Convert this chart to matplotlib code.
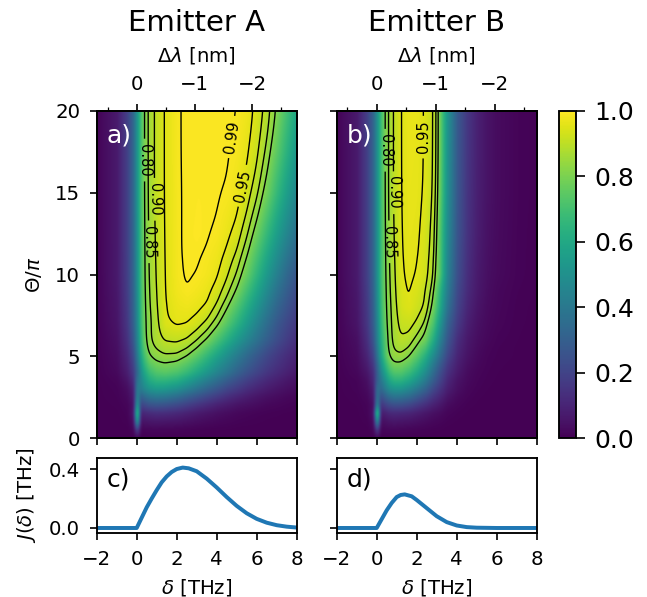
import numpy as np
import matplotlib
matplotlib.use("Agg")
import matplotlib.pyplot as plt

W, H, DPI = 647, 597, 150

theta_rows = [0, .5, 1, 1.5, 2, 2.5, 3, 3.5, 4, 4.5, 5, 5.5, 6, 7, 8, 9, 10, 12.5, 15, 17.5, 20]

delta_a = [-2, -1, -.5, -.2, 0, .2, .35, .6, .95, 1.4, 2, 2.5, 3, 3.5, 4, 4.5, 5, 5.5, 6, 6.5, 7, 7.5, 8]
map_a = [
 [0, 0, 0, .003, .02, .003, .002, .002, .002, .002, .002, .001, .001, .001, 0, 0, 0, 0, 0, 0, 0, 0, 0],
 [0, .001, .002, .015, .2, .015, .015, .018, .018, .016, .014, .011, .008, .006, .004, .003, .002, .001, .001, 0, 0, 0, 0],
 [.0005, .002, .006, .035, .55, .05, .055, .06, .065, .06, .055, .045, .035, .027, .02, .015, .01, .007, .005, .003, .002, .001, .001],
 [.001, .003, .01, .06, .72, .10, .11, .12, .13, .125, .11, .09, .07, .055, .04, .03, .02, .015, .01, .007, .005, .003, .002],
 [.001, .005, .015, .05, .55, .2, .22, .25, .26, .25, .22, .185, .15, .12, .09, .07, .05, .04, .03, .02, .015, .01, .007],
 [.002, .008, .025, .07, .45, .30, .34, .38, .40, .39, .35, .30, .255, .21, .17, .13, .10, .075, .055, .04, .03, .02, .015],
 [.002, .01, .035, .09, .42, .42, .47, .52, .55, .54, .50, .44, .38, .32, .265, .21, .17, .13, .10, .075, .055, .04, .03],
 [.0025, .015, .055, .13, .38, .46, .53, .61, .65, .65, .62, .56, .49, .42, .355, .29, .235, .185, .145, .11, .085, .06, .045],
 [.003, .025, .08, .17, .33, .50, .59, .68, .73, .745, .72, .67, .60, .525, .45, .38, .31, .25, .20, .155, .12, .09, .065],
 [.0035, .03, .095, .195, .365, .55, .65, .745, .785, .797, .78, .735, .67, .595, .51, .435, .36, .295, .235, .185, .145, .11, .08],
 [.004, .035, .11, .22, .40, .60, .70, .80, .825, .843, .84, .805, .74, .66, .575, .49, .41, .335, .27, .21, .165, .125, .095],
 [.005, .04, .125, .245, .43, .64, .74, .825, .855, .88, .883, .855, .805, .73, .645, .555, .47, .39, .32, .25, .195, .15, .11],
 [.005, .045, .14, .27, .45, .66, .765, .84, .875, .905, .91, .90, .858, .80, .715, .625, .535, .45, .37, .295, .23, .175, .13],
 [.006, .055, .16, .30, .47, .69, .775, .83, .88, .945, .96, .954, .93, .89, .825, .735, .64, .54, .44, .35, .27, .21, .16],
 [.007, .06, .17, .31, .48, .70, .78, .84, .89, .945, .97, .975, .965, .945, .89, .81, .72, .615, .51, .41, .32, .25, .19],
 [.008, .065, .18, .315, .49, .705, .785, .845, .895, .95, .98, .991, .982, .968, .935, .875, .795, .69, .58, .47, .37, .29, .22],
 [.008, .07, .185, .32, .50, .71, .79, .85, .90, .95, .985, .996, .993, .982, .965, .92, .855, .76, .645, .53, .425, .33, .26],
 [.009, .07, .19, .325, .51, .715, .79, .855, .905, .952, .985, .995, .997, .995, .988, .968, .94, .868, .77, .66, .55, .45, .36],
 [.01, .07, .19, .33, .52, .72, .795, .86, .91, .953, .986, .994, .996, .996, .994, .99, .972, .935, .873, .775, .66, .55, .45],
 [.01, .07, .19, .33, .52, .72, .795, .86, .91, .953, .987, .994, .996, .996, .995, .993, .985, .96, .915, .84, .74, .63, .52],
 [.01, .07, .19, .33, .52, .72, .795, .86, .91, .953, .987, .994, .996, .996, .996, .994, .991, .975, .94, .885, .80, .69, .58],
]

delta_b = [-2, -1, -.5, -.2, 0, .2, .4, .6, .85, 1.2, 1.6, 2, 2.4, 2.8, 3.1, 3.5, 4, 4.5, 5, 5.5, 6, 7, 8]
map_b = [
 [0, 0, 0, .003, .02, .002, .002, .002, .002, .002, .002, .001, .001, 0, 0, 0, 0, 0, 0, 0, 0, 0, 0],
 [0, .001, .002, .015, .18, .015, .018, .02, .02, .018, .015, .012, .009, .006, .004, .002, .001, 0, 0, 0, 0, 0, 0],
 [.0005, .002, .006, .03, .5, .04, .045, .055, .06, .055, .05, .04, .03, .02, .015, .007, .003, .001, 0, 0, 0, 0, 0],
 [.001, .003, .01, .05, .75, .08, .09, .11, .115, .11, .10, .08, .06, .04, .03, .015, .007, .003, .001, 0, 0, 0, 0],
 [.001, .004, .012, .04, .45, .15, .19, .22, .24, .235, .21, .17, .13, .09, .065, .03, .015, .006, .003, .001, 0, 0, 0],
 [.0015, .007, .02, .06, .38, .24, .30, .35, .38, .37, .34, .28, .22, .15, .11, .055, .025, .012, .005, .002, .001, 0, 0],
 [.002, .01, .03, .08, .36, .34, .42, .49, .52, .52, .47, .40, .32, .22, .16, .085, .04, .018, .009, .004, .002, .001, 0],
 [.002, .012, .04, .11, .30, .40, .50, .59, .64, .64, .59, .51, .41, .29, .21, .11, .05, .025, .012, .006, .003, .001, 0],
 [.002, .02, .06, .13, .30, .46, .58, .68, .73, .73, .68, .60, .49, .35, .25, .14, .07, .03, .015, .008, .004, .002, .001],
 [.003, .025, .08, .165, .33, .52, .65, .75, .795, .79, .75, .67, .56, .41, .30, .17, .085, .04, .02, .01, .005, .002, .001],
 [.004, .03, .10, .20, .38, .58, .72, .81, .84, .845, .81, .74, .63, .48, .36, .21, .10, .05, .025, .012, .007, .003, .001],
 [.005, .035, .12, .23, .41, .61, .73, .815, .855, .873, .85, .79, .71, .55, .41, .24, .115, .058, .03, .015, .008, .003, .001],
 [.005, .04, .135, .26, .44, .63, .74, .82, .865, .897, .885, .835, .78, .62, .46, .27, .13, .065, .035, .02, .01, .004, .001],
 [.007, .055, .16, .29, .46, .66, .77, .825, .87, .915, .92, .895, .845, .72, .55, .32, .17, .085, .045, .025, .015, .005, .002],
 [.008, .06, .17, .30, .48, .68, .78, .83, .875, .935, .95, .925, .90, .79, .63, .38, .20, .105, .055, .03, .018, .006, .002],
 [.009, .065, .18, .31, .49, .69, .785, .835, .885, .94, .954, .94, .905, .83, .67, .42, .22, .12, .065, .035, .02, .008, .003],
 [.01, .07, .19, .32, .50, .70, .79, .84, .89, .947, .957, .952, .93, .875, .75, .45, .24, .13, .07, .04, .025, .01, .004],
 [.01, .07, .19, .32, .50, .70, .795, .85, .90, .948, .962, .958, .935, .88, .76, .48, .26, .145, .08, .045, .028, .011, .004],
 [.01, .07, .19, .32, .50, .70, .80, .855, .905, .95, .965, .962, .947, .905, .79, .50, .27, .15, .085, .05, .03, .012, .005],
 [.01, .07, .19, .32, .50, .70, .80, .855, .905, .95, .967, .964, .948, .908, .80, .51, .275, .155, .088, .05, .03, .012, .005],
 [.01, .07, .19, .32, .50, .70, .80, .855, .905, .95, .968, .965, .948, .91, .80, .52, .28, .16, .09, .05, .03, .012, .005],
]

delta_c = [-2, 0, .25, .5, .75, 1, 1.25, 1.5, 1.75, 2, 2.3, 2.6, 3, 3.5, 4, 4.5, 5, 5.5, 6, 6.5, 7, 7.5, 8]
j_c = [0, 0, .07, .14, .20, .257, .31, .35, .38, .40, .41, .405, .385, .335, .275, .21, .15, .10, .062, .036, .019, .009, .003]
delta_d = [-2, 0, .25, .5, .75, 1, 1.2, 1.4, 1.75, 2, 2.5, 3, 3.5, 4, 4.5, 5, 6, 8]
j_d = [0, 0, .06, .12, .17, .21, .224, .228, .215, .19, .135, .08, .04, .017, .006, .002, 0, 0]

levels = [.80, .85, .90, .95, .99]
labels_a = [(.42, 17), (.62, 12), (.95, 14.6), (5.4, 15.4), (4.8, 18.4)]
labels_b = [(.40, 17.6), (.62, 12), (.90, 15), (2.45, 18.4)]
titles = ["Emitter A", "Emitter B"]


def gauss(z, sigma, axis):
    n = int(4 * sigma) + 1
    k = np.exp(-0.5 * (np.arange(-n, n + 1) / sigma) ** 2)
    k /= k.sum()
    pad = [(0, 0), (0, 0)]
    pad[axis] = (n, n)
    zz = np.pad(z, pad, mode="edge")
    return np.apply_along_axis(lambda v: np.convolve(v, k, mode="valid"), axis, zz)


def refine(table, xs, ys):
    X = np.linspace(-2, 8, 401)
    Y = np.linspace(0, 20, 401)
    t = np.asarray(table, float)
    a = np.array([np.interp(X, xs, r) for r in t])
    b = np.array([np.interp(Y, ys, c) for c in a.T]).T
    return X, Y, b


def box(l, t, r, b):
    return [l / W, 1 - b / H, (r - l) / W, (b - t) / H]


plt.rcParams.update({"font.size": 9.5, "axes.linewidth": 0.9, "font.family": "DejaVu Sans",
                     "xtick.major.pad": 4.5, "ytick.major.pad": 4.5})
fig = plt.figure(figsize=(W / DPI, H / DPI), dpi=DPI)

ax_a = fig.add_axes(box(96.7, 111, 296.7, 438))
ax_b = fig.add_axes(box(336.7, 111, 536.7, 438))
ax_c = fig.add_axes(box(96.7, 458, 296.7, 533))
ax_d = fig.add_axes(box(336.7, 458, 536.7, 533))
cax = fig.add_axes(box(559, 111, 576, 438))

panels = [(ax_a, delta_a, map_a, labels_a, "a)", 2.89, "#ffffff"),
          (ax_b, delta_b, map_b, labels_b, "b)", 2.95, "#ffffff")]
for i, (ax, xs, tbl, labs, tag, conv, tc) in enumerate(panels):
    X, Y, Z = refine(tbl, xs, theta_rows)
    img = gauss(gauss(Z, 2.0, 1), 2.0, 0)
    im = ax.imshow(img, extent=[-2, 8, 0, 20], origin="lower", aspect="auto",
                   cmap="viridis", vmin=0, vmax=1, interpolation="bilinear")
    base = gauss(Z, 4.0, 1)
    light = gauss(base, 9.0, 0)
    heavy = gauss(base, 25.0, 0)
    w = np.clip((Y - 8.5) / 2.5, 0, 1)[:, None]
    smooth = (1 - w) * light + w * heavy
    cs = ax.contour(X, Y, smooth, levels=levels, colors="k", linewidths=0.65)
    ax.clabel(cs, fmt="%.2f", fontsize=7, inline=True, manual=labs)
    ax.set_xlim(-2, 8)
    ax.set_ylim(0, 20)
    ax.set_yticks([0, 5, 10, 15, 20])
    ax.set_xticks([-2, 0, 2, 4, 6, 8])
    ax.set_xticklabels([])
    ax.text(0.05, 0.925, tag, transform=ax.transAxes, color=tc, fontsize=12, va="center")
    top = ax.twiny()
    top.set_xlim(2 / conv, -8 / conv)
    top.set_xticks([0, -1, -2])
    top.set_xticks([.5, -.5, -1.5, -2.5], minor=True)
    top.set_xticklabels(["0", "\u22121", "\u22122"])
    top.set_xlabel(r"$\Delta\lambda$ [nm]", labelpad=6.5)
    top.set_title(titles[i], fontsize=14, pad=7)
ax_b.set_yticklabels([])
ax_a.set_ylabel(r"$\Theta/\pi$", labelpad=5)

for ax, xs, ys, tag in [(ax_c, delta_c, j_c, "c)"), (ax_d, delta_d, j_d, "d)")]:
    ax.plot(xs, ys, color="#1f77b4", lw=1.9)
    ax.set_xlim(-2, 8)
    ax.set_ylim(-0.034, 0.475)
    ax.set_yticks([0, 0.4])
    ax.set_xticks([-2, 0, 2, 4, 6, 8])
    ax.set_xlabel(r"$\delta$ [THz]", labelpad=4)
    ax.text(0.05, 0.72, tag, transform=ax.transAxes, color="k", fontsize=12, va="center")
ax_d.set_yticklabels([])
ax_c.set_ylabel(r"$J(\delta)$ [THz]", labelpad=5)

cb = fig.colorbar(im, cax=cax)
cb.set_ticks([0, .2, .4, .6, .8, 1.0])
cb.ax.tick_params(labelsize=12, length=4.3, pad=4.5)

fig.savefig("out.png", dpi=DPI)
